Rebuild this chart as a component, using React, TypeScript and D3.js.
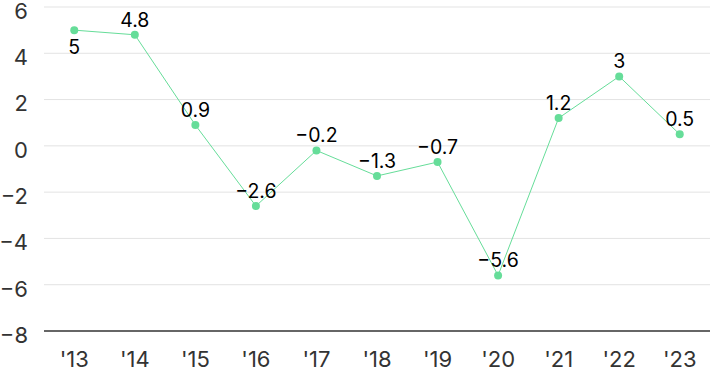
import React from "react";
import * as d3 from "d3";

const years = ["'13", "'14", "'15", "'16", "'17", "'18", "'19", "'20", "'21", "'22", "'23"];
const values = [5, 4.8, 0.9, -2.6, -0.2, -1.3, -0.7, -5.6, 1.2, 3, 0.5];
const labelBelow = [true, false, false, false, false, false, false, false, false, false, false];
const yTicks = [-8, -6, -4, -2, 0, 2, 4, 6];

const W = 710;
const H = 371;
const left = 44;
const right = 710;
const top = 7;
const bottom = 331;

export default function App() {
  const x = d3.scalePoint<string>().domain(years).range([left, right]).padding(0.5);
  const y = d3.scaleLinear().domain([-8, 6]).range([bottom, top]);
  const line = d3
    .line<number>()
    .x((_, i) => x(years[i]) as number)
    .y((d) => y(d));
  const font = "Inter, 'Noto Sans', sans-serif";
  const fmt = (v: number) => (v < 0 ? "\u2212" + Math.abs(v) : String(v));
  return (
    <svg
      width={W}
      height={H}
      style={{ position: "absolute", left: 0, top: 0, display: "block" }}
    >
      {yTicks.map((t) =>
        t === -8 ? null : (
          <line key={"g" + t} x1={left} x2={right} y1={y(t)} y2={y(t)} stroke="#e3e3e3" strokeWidth={1} />
        )
      )}
      <line x1={left} x2={right} y1={y(-8)} y2={y(-8)} stroke="#333" strokeWidth={1.5} />
      {yTicks.map((t) => (
        <text
          key={"t" + t}
          x={28}
          y={y(t) + 4}
          dy="0.36em"
          textAnchor="end"
          fontSize={22}
          fill="#333"
          fontFamily={font}
        >
          {fmt(t)}
        </text>
      ))}
      {years.map((yr) => (
        <text
          key={yr}
          x={x(yr)}
          y={367}
          textAnchor="middle"
          fontSize={22}
          fill="#333"
          fontFamily={font}
        >
          {yr}
        </text>
      ))}
      <path d={line(values) || ""} fill="none" stroke="#66dd99" strokeWidth={1} />
      {values.map((v, i) => (
        <circle key={"c" + i} cx={x(years[i])} cy={y(v)} r={4} fill="#66dd99" />
      ))}
      {values.map((v, i) => (
        <text
          key={"l" + i}
          x={x(years[i])}
          y={labelBelow[i] ? y(v) + 24 : y(v) - 8}
          textAnchor="middle"
          fontSize={19.5}
          fill="#000"
          fontFamily={font}
        >
          {fmt(v)}
        </text>
      ))}
    </svg>
  );
}
